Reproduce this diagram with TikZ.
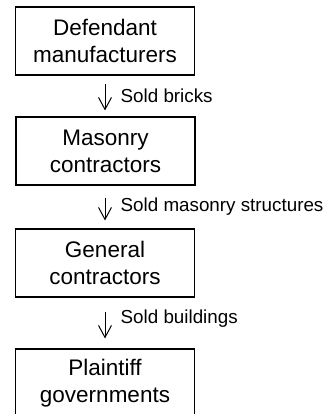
\documentclass[tikz,border=0pt]{standalone}
\usepackage{fontspec}
\setmainfont{Liberation Sans}
\usetikzlibrary{arrows.meta}
\begin{document}
\begin{tikzpicture}[x=1pt,y=1pt,
  stagebox/.style={draw=black, line width=1.1pt, minimum width=179pt, minimum height=68pt,
    inner sep=0pt, align=center, font=\fontsize{22.5}{27}\selectfont},
  flow/.style={line width=1pt, -{Straight Barb[length=12pt,width=13pt,line width=1pt]}},
  flowlabel/.style={anchor=west, inner sep=0pt, font=\fontsize{18.8}{22}\selectfont}
]
\useasboundingbox (0,0) rectangle (323,-414);
\clip (0,0) rectangle (323,-414);
\node[stagebox] (b1) at (105,-41) {Defendant\\manufacturers};
\node[stagebox] (b2) at (105.5,-151) {Masonry\\contractors};
\node[stagebox] (b3) at (105,-263) {General\\contractors};
\node[stagebox] (b4) at (105,-383) {Plaintiff\\governments};
\draw[flow, shorten <=8pt, shorten >=6pt] (b1.south) -- (b1.south |- b2.north) coordinate (a1);
\draw[flow, shorten <=12pt, shorten >=8pt] (b2.south -| b1.south) -- (b3.north) coordinate (a2);
\draw[flow, shorten <=14pt, shorten >=10pt] (b3.south) -- (b4.north) coordinate (a3);
\node[flowlabel] (l1) at (120.5,-96) {Sold bricks};
\node[flowlabel] (l2) at (120.5,-207) {Sold masonry structures};
\node[flowlabel] (l3) at (120.5,-319) {Sold buildings};
\end{tikzpicture}
\end{document}
